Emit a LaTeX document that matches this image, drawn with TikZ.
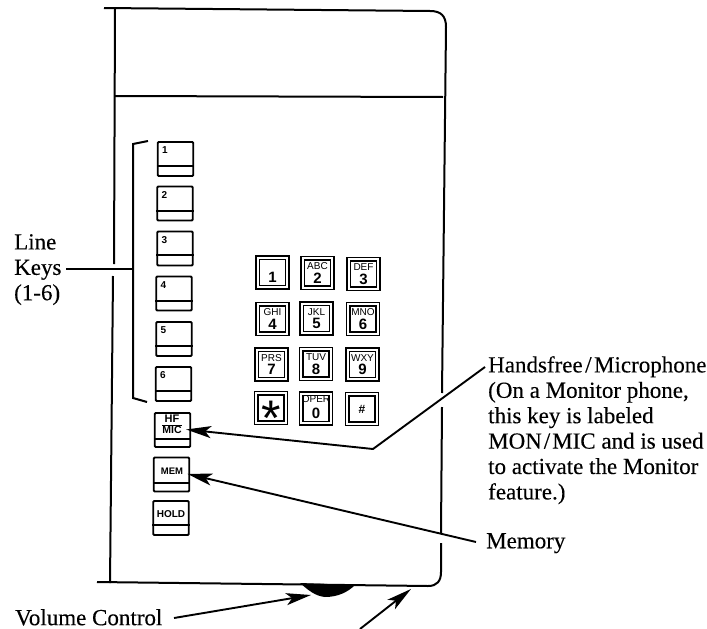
\documentclass[tikz,border=0pt]{standalone}
\usepackage{fontspec}
\setmainfont{Liberation Serif}
\setsansfont{Liberation Sans}
\newfontfamily\calloutfont[FakeBold=0.25]{Liberation Serif}
\usetikzlibrary{arrows.meta,calc}

\begin{document}
\begin{tikzpicture}[
  x=1pt,y=-1pt,
  >=Stealth,
  case/.style={line width=2pt},
  leader/.style={line width=2pt},
  pointer/.style={line width=1.9pt,-{Stealth[length=25pt,width=12pt,inset=6pt]}},
  linekey/.style={draw, line width=1.8pt, rounded corners=1pt, minimum width=35.5pt, minimum height=34pt, inner sep=0pt},
  padkey/.style={draw, line width=1.3pt, double=white, double distance=2pt, minimum width=29.5pt, minimum height=29.5pt, inner sep=0pt},
  keyrule/.style={line width=1.3pt},
  linenum/.style={font=\sffamily\bfseries\fontsize{10}{10}\selectfont, inner sep=0pt},
  softlabel/.style={font=\sffamily\bfseries\fontsize{9.5}{9.5}\selectfont, inner sep=0pt},
  padletters/.style={font=\sffamily\fontsize{10}{10}\selectfont, inner sep=0pt},
  paddigit/.style={font=\sffamily\bfseries\fontsize{15}{15}\selectfont, inner sep=0pt},
  callout/.style={font=\calloutfont\fontsize{23}{25.4}\selectfont, align=left, anchor=north west, inner sep=0pt}
]
\useasboundingbox (0,0) rectangle (707,629);

\draw[case] (104,8) -- (430,11) .. controls (441,11) and (446,16) .. (446,27) -- (442,393);
\draw[case] (442,407) -- (441,533);
\draw[case] (441,543) -- (441,572) .. controls (441,581) and (437,586) .. (428,586) -- (97,582);
\draw[case] (115,9) -- (114,264);
\draw[case] (113,276) -- (110,583);
\draw[case] (115,96) -- (443,97);
\fill (300,583) .. controls (308,590) and (315,596) .. (325,597) .. controls (338,597) and (348,592) .. (355,585) -- cycle;

\foreach \n/\x/\y/\d in {1/175.5/159/166, 2/175/203.5/211, 3/175/248.5/255, 4/174/293.5/301, 5/174/339/346, 6/173.5/384/391}{
  \node[linekey] (key\n) at (\x,\y) {};
  \draw[keyrule] (key\n.west |- 0,\d) -- (key\n.east |- 0,\d);
  \node[linenum] (num\n) at ($(key\n.north west)+(8,9)$) {\n};
}

\node[linekey] (keyhf) at (172.5,430) {};
\draw[keyrule] (keyhf.west |- 0,439) -- (keyhf.east |- 0,439);
\node[softlabel, font=\sffamily\bfseries\fontsize{11}{11}\selectfont] (hftext) at (172,418.5) {HF};
\node[softlabel, font=\sffamily\bfseries\fontsize{10.5}{10.5}\selectfont] (mictext) at (172,429.5) {MIC};
\draw[keyrule] (mictext.north west) -- (mictext.north east);

\node[linekey] (keymem) at (171.5,474.5) {};
\draw[keyrule] (keymem.west |- 0,483) -- (keymem.east |- 0,483);
\node[softlabel] (memtext) at (172,471) {MEM};

\node[linekey] (keyhold) at (171,518) {};
\draw[keyrule] (keyhold.west |- 0,525) -- (keyhold.east |- 0,525);
\node[softlabel, font=\sffamily\bfseries\fontsize{10}{10}\selectfont] (holdtext) at (171,514) {HOLD};

\foreach \n/\x/\y/\txt/\dig in {
  a/272.5/272.5//1, b/317.5/273/ABC/2, c/363.5/274/DEF/3,
  d/272.5/319/GHI/4, e/316.5/318.5/JKL/5, f/363/319/MNO/6,
  g/271.5/364.5/PRS/7, h/316/364/TUV/8, i/362.5/364.5/WXY/9}{
  \node[padkey] (pad\n) at (\x,\y) {};
  \node[padletters] (txt\n) at ($(pad\n.center)+(0,-6.5)$) {\txt};
  \node[paddigit] (dig\n) at ($(pad\n.center)+(0,5)$) {\dig};
}
\node[padkey] (padj) at (271,408) {};
\node[paddigit, font=\sffamily\fontsize{50}{50}\selectfont] (digj) at ($(padj.center)+(0,10)$) {*};
\node[padkey] (padk) at (316,408.5) {};
\node[padletters] (txtk) at ($(padk.center)+(0,-9)$) {OPER};
\node[paddigit] (digk) at ($(padk.center)+(0,5)$) {0};
\node[padkey] (padl) at (362,409) {};
\node[paddigit, font=\sffamily\bfseries\fontsize{12}{12}\selectfont] (digl) at (padl.center) {\#};

\draw[case] (148,141) -- (133,144) -- (133,398) -- (147,402);
\coordinate (linestart) at (66,269);
\coordinate (bracketmid) at (133,269);
\draw[leader] (linestart) -- (bracketmid);
\node[callout] (linelabel) at (14,234) {Line\\Keys\\(1-6)};

\node[callout] (hflabel) at (488,356) {Handsfree\kern2.5pt/\kern2.5pt Microphone\\(On a Monitor phone,\\this key is labeled\\MON\kern2pt/\kern2pt MIC and is used\\to activate the Monitor\\feature.)};
\node[callout] (memlabel) at (486,533) {Memory};
\node[callout] (vollabel) at (15,609) {Volume Control};

\coordinate (hfstart) at (485,367);
\coordinate (hfbend) at (373,449);
\draw[pointer, shorten >=-5pt] (hfstart) -- (hfbend) -- (keyhf.east);
\coordinate (memstart) at (476,542);
\draw[pointer, shorten >=-3pt] (memstart) -- (keymem.east);
\coordinate (volstart) at (174,618);
\coordinate (voltip) at (311,595);
\draw[pointer] (volstart) -- (voltip);
\coordinate (casestart) at (360,629);
\coordinate (casetip) at (411,589);
\draw[pointer] (casestart) -- (casetip);
\end{tikzpicture}
\end{document}
